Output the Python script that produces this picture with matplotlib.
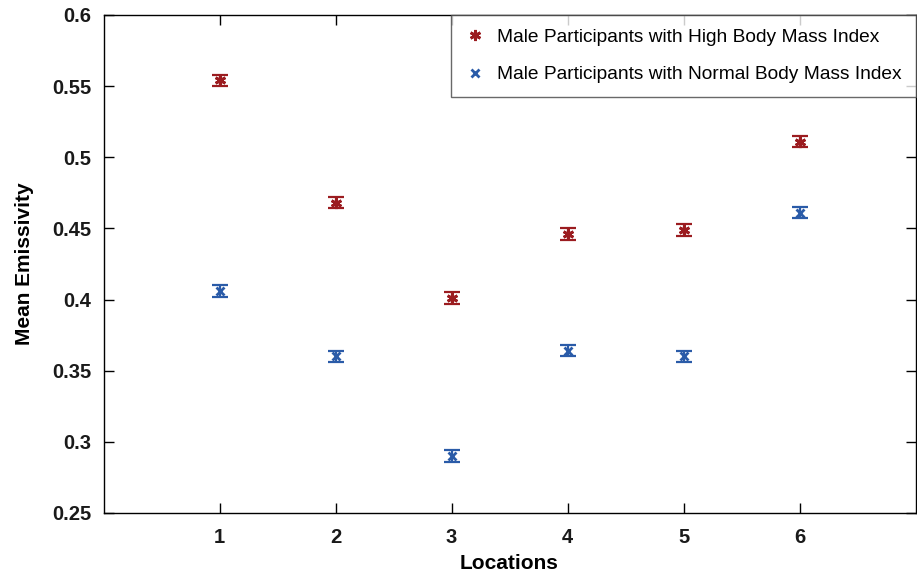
import numpy as np
import matplotlib.pyplot as plt

plt.rcParams['font.family'] = ['Liberation Sans', 'DejaVu Sans']

locations = [1, 2, 3, 4, 5, 6]
high_bmi = [0.554, 0.468, 0.401, 0.446, 0.449, 0.511]
high_err = [0.004, 0.004, 0.004, 0.004, 0.004, 0.004]
normal_bmi = [0.406, 0.360, 0.290, 0.364, 0.360, 0.461]
normal_err = [0.004, 0.004, 0.004, 0.004, 0.004, 0.004]

red = '#9b1c20'
blue = '#2a5ba8'

fig = plt.figure(figsize=(9.17, 5.76), dpi=100)
ax = fig.add_axes([0.1129, 0.1094, 0.8855, 0.8646])

ax.errorbar(locations, high_bmi, yerr=high_err, fmt='none', ecolor=red,
            elinewidth=1.6, capsize=6, capthick=1.6)
ax.plot(locations, high_bmi, linestyle='none', marker=(6, 2, 0), markersize=8,
        markeredgewidth=2, color=red, label='Male Participants with High Body Mass Index')
ax.errorbar(locations, normal_bmi, yerr=normal_err, fmt='none', ecolor=blue,
            elinewidth=1.6, capsize=6, capthick=1.6)
ax.plot(locations, normal_bmi, linestyle='none', marker='x', markersize=6,
        markeredgewidth=2, color=blue, label='Male Participants with Normal Body Mass Index')

ax.set_xlim(0, 7)
ax.set_ylim(0.25, 0.6)
ax.set_xticks(locations)
ax.set_yticks([0.25, 0.3, 0.35, 0.4, 0.45, 0.5, 0.55, 0.6])
ax.set_yticklabels(['0.25', '0.3', '0.35', '0.4', '0.45', '0.5', '0.55', '0.6'])
ax.tick_params(direction='in', top=True, right=True, length=7, width=1,
               labelsize=14.5)
ax.tick_params(axis='x', pad=11)
ax.tick_params(axis='y', pad=9)
for lab in ax.get_xticklabels() + ax.get_yticklabels():
    lab.set_fontweight('bold')
    lab.set_color('#1a1a1a')
for s in ax.spines.values():
    s.set_linewidth(1)

ax.set_xlabel('Locations', fontsize=15, fontweight='bold', labelpad=5)
ax.set_ylabel('Mean Emissivity', fontsize=15, fontweight='bold', labelpad=13)

leg = ax.legend(loc='upper right', bbox_to_anchor=(1.0, 1.0), fontsize=13.8,
                frameon=True, fancybox=False, edgecolor='#444444',
                borderaxespad=0, handletextpad=0.6, borderpad=0.7,
                labelspacing=1.05, handlelength=1.1)
leg.get_frame().set_linewidth(1)

fig.savefig('out.png', dpi=100)
